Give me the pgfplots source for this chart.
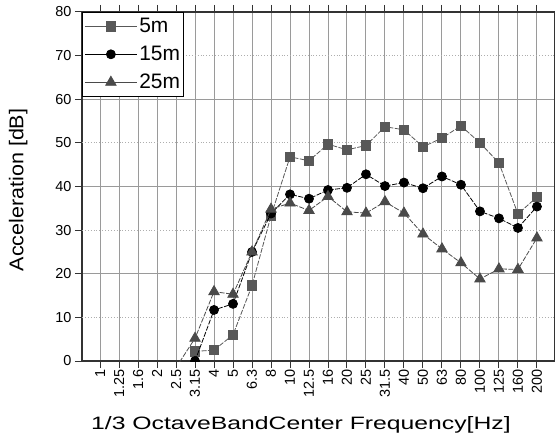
\documentclass[border=0pt]{standalone}
\usepackage{fontspec}
\setmainfont{Liberation Sans}
\usepackage{pgfplots}
\pgfplotsset{compat=1.18}
\definecolor{gridc}{HTML}{9A9A9A}
\definecolor{axc}{HTML}{333333}
\definecolor{sq}{HTML}{585858}
\definecolor{tri}{HTML}{4A4A4A}
\definecolor{linec}{HTML}{303030}
\begin{document}
\begin{tikzpicture}
\begin{axis}[
  scale only axis, width=473bp, height=349bp,
  xmin=-0.95, xmax=23.95, ymin=0, ymax=80,
  clip marker paths=true,
  axis line style={draw=axc, line width=1.3bp},
  xtick={0,...,23},
  xticklabels={1,1.25,1.6,2,2.5,3.15,4,5,6.3,8,10,12.5,16,20,25,31.5,40,50,63,80,100,125,160,200},
  x tick label style={rotate=90, anchor=east, font=\fontsize{14.5}{14.5}\selectfont, inner sep=1bp},
  ytick={0,20,40,60,80},
  extra y ticks={10,30,50,70},
  extra y tick style={ymajorgrids=true, major grid style={draw=gridc!80, line width=0.9bp, dotted}},
  y tick label style={font=\fontsize{14.5}{14.5}\selectfont},
  /pgf/number format/assume math mode=true,
  tick align=outside, major tick length=7bp,
  tick style={draw=axc, line width=1bp},
  xmajorgrids=true, ymajorgrids=true,
  major grid style={draw=gridc, line width=1bp},
  xlabel={\scalebox{1.38}[1]{1/3 OctaveBandCenter Frequency[Hz]}},
  xlabel style={at={(axis description cs:0.463,-0.183)}, anchor=center, font=\fontsize{18}{18}\selectfont},
  ylabel={\scalebox{1.08}[1]{Acceleration [dB]}},
  ylabel style={at={(axis description cs:-0.135,0.49)}, anchor=center, rotate=0, font=\fontsize{20}{20}\selectfont},
  legend style={at={(0,1)}, anchor=north west, draw=black, line width=1bp, fill=white,
    font=\fontsize{21}{21}\selectfont, inner xsep=2bp, inner ysep=4bp, row sep=8bp,
    cells={anchor=west}},
  legend image code/.code={\draw[mark repeat=2,mark phase=2,#1,solid] plot coordinates {(0bp,0bp) (26bp,0bp) (52bp,0bp)};},
  every axis plot/.append style={line width=0.8bp, dash pattern=on 5bp off 1.5bp},
]
\addplot[color=sq, mark=square*, mark size=4.8bp, mark options={fill=sq, draw=sq, solid}] coordinates {
 (5,2.2) (6,2.5) (7,6.0) (8,17.3) (9,33.3) (10,46.8) (11,45.9) (12,49.7) (13,48.4) (14,49.4)
 (15,53.7) (16,53.0) (17,49.1) (18,51.1) (19,53.9) (20,50.0) (21,45.4) (22,33.7) (23,37.6)};
\addlegendentry{5m}
\addplot[color=black, mark=*, mark size=4.5bp, mark options={fill=black, solid}] coordinates {
 (5,0.0) (6,11.7) (7,13.1) (8,25.0) (9,33.8) (10,38.2) (11,37.2) (12,39.2) (13,39.7) (14,42.8)
 (15,40.1) (16,40.9) (17,39.6) (18,42.3) (19,40.4) (20,34.3) (21,32.7) (22,30.5) (23,35.4)};
\addlegendentry{15m}
\addplot[color=tri, mark=triangle*, mark size=6bp, mark options={fill=tri, draw=tri, solid}] coordinates {
 (4,-1.5) (5,5.2) (6,15.9) (7,15.3) (8,25.0) (9,34.8) (10,36.2) (11,34.5) (12,37.7) (13,34.2) (14,33.9)
 (15,36.5) (16,33.9) (17,29.1) (18,25.7) (19,22.5) (20,18.8) (21,21.1) (22,21.0) (23,28.2)};
\addlegendentry{25m}
\end{axis}
\pgfresetboundingbox
\path[use as bounding box] (current axis.south west) ++(-82bp,-80bp) rectangle ++(555bp,441bp);
\end{tikzpicture}
\end{document}
